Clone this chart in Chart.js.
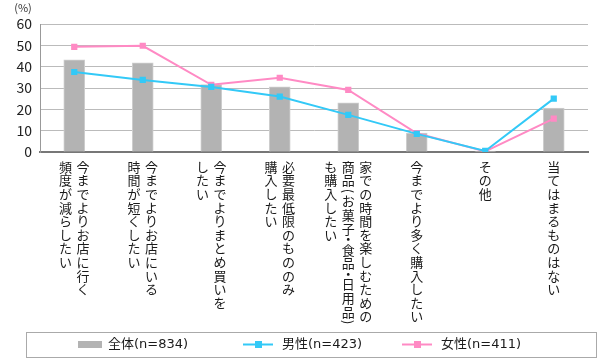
<!DOCTYPE html>
<html>
<head>
<meta charset="utf-8">
<script src="https://cdn.jsdelivr.net/npm/chart.js@4"></script>
<style>
  html, body { margin: 0; padding: 0; background: #fff; }
  canvas { display: block; }
</style>
</head>
<body>
<canvas id="chart" width="600" height="360"></canvas>
<script>
// category labels, one string per vertical column (right to left)
const categories = [
    ['今までよりお店に行く', '頻度が減らしたい'],
    ['今までよりお店にいる', '時間が短くしたい'],
    ['今までよりまとめ買いを', 'したい'],
    ['必要最低限のもののみ', '購入したい'],
    ['家での時間を楽しむための', '商品(お菓子・食品・日用品)', 'も購入したい'],
    ['今までより多く購入したい'],
    ['その他'],
    ['当てはまるものはない']
];
const seriesNames = ['全体(n=834)', '男性(n=423)', '女性(n=411)'];
const totalValues = [43.2, 41.8, 31.6, 30.5, 23.0, 8.9, 0.4, 20.6];
const maleValues = [37.5, 33.8, 30.5, 26.0, 17.4, 8.5, 0.5, 25.0];
const femaleValues = [49.3, 49.8, 31.5, 34.8, 29.1, 8.8, 0.3, 15.6];
const yTicks = [0, 10, 20, 30, 40, 50, 60];

const FONT = '"Noto Sans CJK JP", "Noto Sans", sans-serif';
const LEGEND_FONT = '"DejaVu Sans", "Noto Sans CJK JP", sans-serif';
const GRAY = '#b3b3b3';
const BLUE = '#33c9f7';
const PINK = '#ff8ac4';

// draws the vertical japanese labels, the (%) unit and the boxed legend
const extras = {
    id: 'extras',
    afterDraw(chart) {
        const ctx = chart.ctx;
        const x = chart.scales.x;
        ctx.save();
        ctx.fillStyle = '#1a1a1a';
        ctx.textAlign = 'center';
        ctx.textBaseline = 'middle';
        ctx.font = '13px ' + FONT;
        const step = 13.6;
        const colGap = 17.5;
        categories.forEach((cols, i) => {
            const cx = x.getPixelForValue(i);
            cols.forEach((col, j) => {
                const colX = cx + ((cols.length - 1) / 2 - j) * colGap;
                let y = 160;
                for (const ch of col) {
                    const half = '()（）・'.includes(ch);
                    const adv = half ? 7.5 : step;
                    const cy = y + adv / 2;
                    if ('()（）'.includes(ch)) {
                        ctx.save();
                        ctx.translate(colX, cy);
                        ctx.rotate(Math.PI / 2);
                        ctx.fillText(ch, 0, 0);
                        ctx.restore();
                    } else {
                        ctx.fillText(ch, colX, cy);
                    }
                    y += adv;
                }
            });
        });

        // unit
        ctx.font = '11px ' + FONT;
        ctx.fillStyle = '#333';
        ctx.fillText('(%)', 23, 8);

        // legend
        ctx.strokeStyle = '#aaa';
        ctx.lineWidth = 1;
        ctx.strokeRect(26.5, 332.5, 570, 25);
        const ly = 344.5;
        ctx.font = '13px ' + LEGEND_FONT;
        ctx.textAlign = 'left';

        ctx.fillStyle = GRAY;
        ctx.fillRect(78, 341, 24, 7);
        ctx.fillStyle = '#1a1a1a';
        ctx.fillText(seriesNames[0], 108, ly);

        [[243, BLUE, seriesNames[1]], [402, PINK, seriesNames[2]]].forEach(([lx, color, name]) => {
            ctx.strokeStyle = color;
            ctx.lineWidth = 2;
            ctx.beginPath();
            ctx.moveTo(lx, ly);
            ctx.lineTo(lx + 30, ly);
            ctx.stroke();
            ctx.fillStyle = color;
            ctx.fillRect(lx + 12, ly - 3.5, 7, 7);
            ctx.fillStyle = '#1a1a1a';
            ctx.fillText(name, lx + 39, ly);
        });
        ctx.restore();
    }
};

new Chart(document.getElementById('chart'), {
    type: 'bar',
    data: {
        labels: categories,
        datasets: [{
            type: 'line',
            label: seriesNames[1],
            data: maleValues,
            borderColor: BLUE,
            backgroundColor: BLUE,
            borderWidth: 2,
            pointStyle: 'rect',
            pointRadius: 4.4,
            pointBorderWidth: 0,
            order: 0
        }, {
            type: 'line',
            label: seriesNames[2],
            data: femaleValues,
            borderColor: PINK,
            backgroundColor: PINK,
            borderWidth: 2,
            pointStyle: 'rect',
            pointRadius: 4.4,
            pointBorderWidth: 0,
            order: 1
        }, {
            type: 'bar',
            label: seriesNames[0],
            data: totalValues,
            backgroundColor: GRAY,
            borderColor: '#cfcfcf',
            borderWidth: 1,
            barThickness: 21,
            order: 2
        }]
    },
    options: {
        responsive: false,
        animation: false,
        devicePixelRatio: 1,
        layout: { padding: { left: 0, right: 12, top: 24, bottom: 0 } },
        plugins: {
            legend: { display: false },
            tooltip: { enabled: false }
        },
        scales: {
            x: {
                grid: { display: false },
                border: { color: '#777', width: 2 },
                ticks: { display: false },
                afterFit(scale) { scale.height = 208; }
            },
            y: {
                min: 0,
                max: 60,
                afterBuildTicks(scale) { scale.ticks = yTicks.map(v => ({ value: v })); },
                ticks: {
                    padding: 8,
                    color: '#222',
                    font: { family: FONT, size: 14 }
                },
                grid: { color: '#bbb', drawTicks: false },
                border: { color: '#999', width: 1 },
                afterFit(scale) { scale.width = 40; }
            }
        }
    },
    plugins: [extras]
});
</script>
</body>
</html>
